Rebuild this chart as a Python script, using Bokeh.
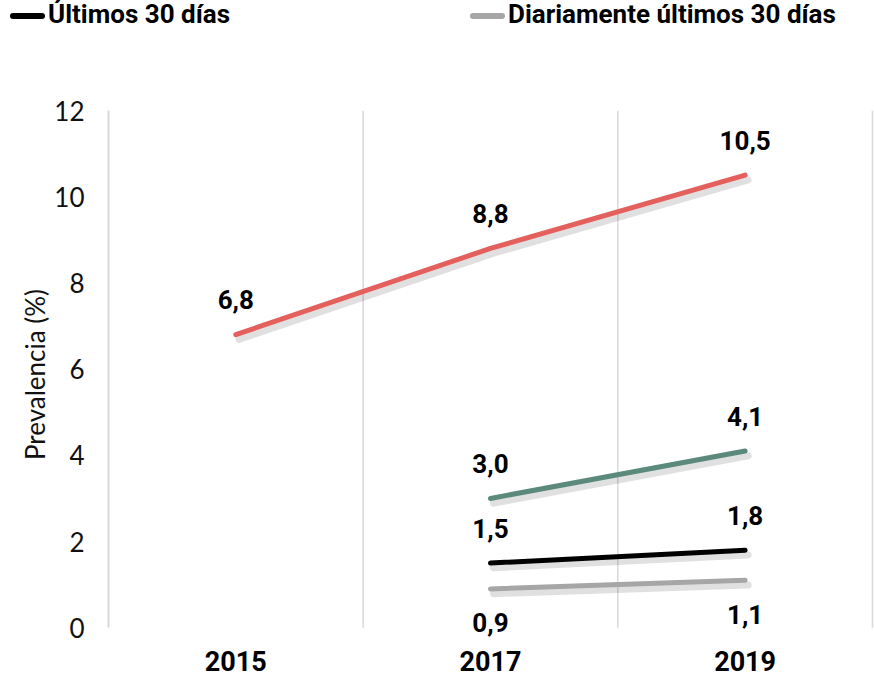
from bokeh.plotting import figure
from bokeh.models import Range1d, FixedTicker, ColumnDataSource, LabelSet, Div
from bokeh.layouts import column
from bokeh.core.properties import value
from bokeh.embed import file_html
from bokeh.resources import INLINE

years = ["2015", "2017", "2019"]
alguna_vez = [6.8, 8.8, 10.5]
ultimos_12 = [None, 3.0, 4.1]
ultimos_30 = [None, 1.5, 1.8]
diario_30 = [None, 0.9, 1.1]
series_colors = ["#e3605d", "#5b8a7c", "#000000", "#a6a6a6"]
legend_labels = ["Últimos 30 días", "Diariamente últimos 30 días"]
y_ticks = [0, 2, 4, 6, 8, 10, 12]

def fmt(v):
    return f"{v:.1f}".replace(".", ",")

pos = {y: i + 0.5 for i, y in enumerate(years)}

W = 874
p = figure(width=W, height=647, output_backend="svg", toolbar_location=None,
           x_range=Range1d(0, 3.008), y_range=Range1d(-0.25, 12),
           min_border_left=108, min_border_right=0, min_border_top=80, min_border_bottom=39)
p.outline_line_color = None
p.background_fill_color = "white"

# axes
p.yaxis.ticker = FixedTicker(ticks=y_ticks)
p.yaxis.bounds = (0, 12)
p.yaxis.axis_line_color = "#d9d9d9"
p.yaxis.axis_line_width = 2
p.yaxis.major_tick_line_color = None
p.yaxis.minor_tick_line_color = None
p.yaxis.major_label_text_font = "Lato"
p.yaxis.major_label_text_font_size = "26px"
p.yaxis.major_label_text_color = "#111111"
p.yaxis.major_label_standoff = 18
p.yaxis.axis_label = "Prevalencia (%)"
p.yaxis.axis_label_text_font = "Lato"
p.yaxis.axis_label_text_font_style = "normal"
p.yaxis.axis_label_text_font_size = "26px"
p.yaxis.axis_label_text_color = "#111111"
p.yaxis.axis_label_standoff = 0

p.xaxis.ticker = FixedTicker(ticks=[pos[y] for y in years])
p.xaxis.major_label_overrides = {pos[y]: y for y in years}
p.xaxis.axis_line_color = None
p.xaxis.major_tick_line_color = None
p.xaxis.minor_tick_line_color = None
p.xaxis.major_label_text_font = "Roboto"
p.xaxis.major_label_text_font_style = "bold"
p.xaxis.major_label_text_font_size = "27px"
p.xaxis.major_label_text_color = "#000000"
p.xaxis.major_label_standoff = 6

p.ygrid.grid_line_color = None
p.xgrid.grid_line_color = None
# category separators (grid lines between categories)
bounds = [1, 2, 3]
p.segment(x0=bounds, x1=bounds, y0=[0] * 3, y1=[12] * 3, line_color="#d9d9d9", line_width=1.5)

all_series = [alguna_vez, ultimos_12, ultimos_30, diario_30]
dx, dy = 0.012, 0.11
for vals, col in zip(all_series, series_colors):
    xs = [pos[y] for y, v in zip(years, vals) if v is not None]
    ys = [v for v in vals if v is not None]
    p.line([x + dx for x in xs], [y - dy for y in ys], line_color="#000000",
           line_alpha=0.12, line_width=7, line_cap="round")
    p.line(xs, ys, line_color=col, line_width=5, line_cap="round")

# data labels
lab_x, lab_y, lab_t, lab_off = [], [], [], []
for vals, above in zip(all_series, [True, True, True, False]):
    for y, v in zip(years, vals):
        if v is None:
            continue
        lab_x.append(pos[y]); lab_y.append(v); lab_t.append(fmt(v))
        lab_off.append(35 if above else -34)
src = ColumnDataSource(dict(x=lab_x, y=lab_y, t=lab_t, off=lab_off))
labels = LabelSet(x="x", y="y", text="t", y_offset="off", source=src,
                  text_font=value("Roboto"), text_font_style="bold", text_font_size="26px",
                  text_align="center", text_baseline="middle", text_color="#000000")
p.add_layout(labels)

# legend (HTML, above the plot)
def item(label, color, left):
    return (f'<div style="position:absolute;left:{left}px;top:0px;white-space:nowrap;'
            f'font-family:Roboto;font-weight:bold;font-size:26px;line-height:28px;color:#000">'
            f'<span style="display:inline-block;width:35px;height:6px;border-radius:3px;'
            f'background:{color};vertical-align:middle;margin-right:3px"></span>{label}</div>')

legend_html = (f'<div style="position:relative;width:{W}px;height:30px;overflow:hidden">'
               + item(legend_labels[0], series_colors[2], 10)
               + item(legend_labels[1], series_colors[3], 470) + '</div>')
legend_div = Div(text=legend_html, width=W, height=30, margin=0)

layout = column(legend_div, p, spacing=0)
open("out.html", "w").write(file_html(layout, INLINE))
